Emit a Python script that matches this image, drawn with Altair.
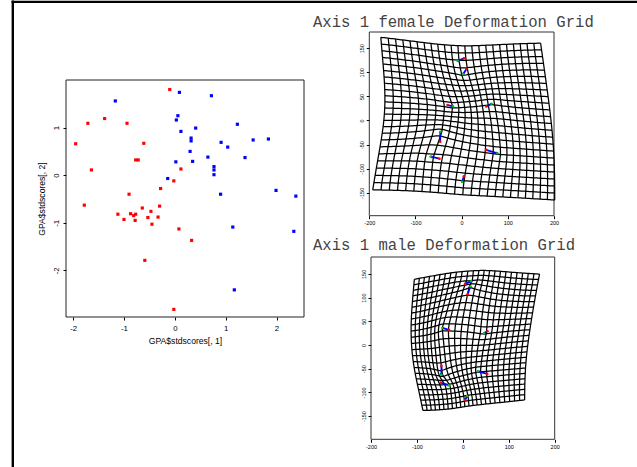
import numpy as np
import pandas as pd
import altair as alt

W, H = 637, 467

# ---------------- scatter data (GPA$stdscores) ----------------
red_x = [-0.10, -1.71, -1.38, -0.94, -1.95, -0.61, -1.64, -0.77, -0.72, -0.02, 0.12, -0.28, -0.90,
         -1.78, -0.30, -0.64, -1.12, -0.87, -0.81, -0.77, -1.00, -0.78, -0.53, -0.47, -0.33, -0.45,
         0.08, 0.33, -0.59, -0.02]
red_y = [1.80, 1.09, 1.19, 1.09, 0.66, 0.67, 0.11, 0.32, 0.32, -0.12, 0.13, -0.28, -0.40,
         -0.63, -0.65, -0.69, -0.82, -0.81, -0.85, -0.82, -0.93, -0.95, -0.89, -0.76, -0.88, -1.03,
         -1.13, -1.37, -1.79, -2.82]
blue_x = [-1.17, 0.09, 0.72, 0.06, 0.03, 0.12, 0.41, 0.32, 0.32, 1.23, 0.91, 1.04, 1.54, 1.84, 0.30,
          0.02, 0.35, 0.65, 1.38, 0.77, 0.77, 0.77, -0.14, 0.90, 1.99, 2.38, 1.14, 2.34, 1.17]
blue_y = [1.56, 1.74, 1.67, 1.25, 1.16, 0.92, 0.99, 0.78, 0.72, 1.07, 0.69, 0.59, 0.74, 0.76, 0.50,
          0.28, 0.29, 0.38, 0.37, 0.18, 0.11, 0.01, -0.07, -0.40, -0.32, -0.44, -1.09, -1.18, -2.41]

# ---------------- landmark data ----------------
ref_x = [5.0, 10.5, -30.5, 53.5, -46.5, -48.0, 53.0, 4.8]
ref_y = [129.0, 107.0, 32.0, 29.0, -44.0, -79.3, -61.0, -116.0]
fem_x = [-8.7, 3.0, -18.7, 64.6, -46.3, -67.2, 77.6, 0.9]
fem_y = [124.0, 95.8, 29.4, 34.9, -23.2, -75.0, -68.0, -127.0]
male_x = [18.1, 16.6, -44.5, 45.9, -46.8, -30.6, 32.8, 9.4]
male_y = [134.3, 123.8, 35.9, 24.6, -62.6, -85.1, -55.5, -107.6]

# warped grid corners (TL, TR, BR, BL)
fem_corner_x = [-175.0, 171.0, 201.5, -192.6]
fem_corner_y = [172.6, 160.5, -165.0, -144.0]
male_corner_x = [-105.6, 167.0, 134.5, -87.0]
male_corner_y = [138.6, 149.5, -116.0, -138.0]

titles = ["Axis 1 female Deformation Grid", "Axis 1 male Deformation Grid"]
x_label = "GPA$stdscores[, 1]"
y_label = "GPA$stdscores[, 2]"

# grid settings
N_GRID = 24
GRID_CENTER = (14.0, 8.0)
GRID_HALF = 148.0


def kern(d2):
    return -np.sqrt(d2)


def tps_fit(src, dst):
    n = len(src)
    d2 = ((src[:, None, :] - src[None, :, :]) ** 2).sum(-1)
    K = kern(d2)
    P = np.hstack([np.ones((n, 1)), src])
    L = np.zeros((n + 3, n + 3))
    L[:n, :n] = K
    L[:n, n:] = P
    L[n:, :n] = P.T
    rhs = np.zeros((n + 3, 2))
    rhs[:n] = dst
    return np.linalg.solve(L, rhs)


def tps_apply(src, coef, pts):
    n = len(src)
    d2 = ((pts[:, None, :] - src[None, :, :]) ** 2).sum(-1)
    P = np.hstack([np.ones((len(pts), 1)), pts])
    return kern(d2) @ coef[:n] + P @ coef[n:]


def grid_frame(tx, ty, kx, ky):
    cx, cy = GRID_CENTER
    h = GRID_HALF
    sq = np.array([[cx - h, cy + h], [cx + h, cy + h], [cx + h, cy - h], [cx - h, cy - h]])
    src = np.vstack([np.column_stack([ref_x, ref_y]), sq])
    dst = np.vstack([np.column_stack([tx, ty]), np.column_stack([kx, ky])])
    coef = tps_fit(src, dst)
    ticks = np.linspace(-h, h, N_GRID)
    fine = np.linspace(-h, h, 100)
    rows = []
    lid = 0
    for t in ticks:
        for pts in (np.column_stack([cx + fine, np.full_like(fine, cy + t)]),
                    np.column_stack([np.full_like(fine, cx + t), cy + fine])):
            w = tps_apply(src, coef, pts)
            for k, (a, b) in enumerate(w):
                rows.append({"gx": a, "gy": b, "lid": lid, "k": k})
            lid += 1
    return pd.DataFrame(rows)


FONT = "Liberation Sans"


def num_axis(orient, offset, values, size, tick, pad, title=None, tpad=0, tsize=8):
    kw = dict(orient=orient, offset=offset, values=values, domain=False, grid=False,
              tickSize=tick, tickColor="black", tickWidth=1,
              labelFont=FONT, labelFontSize=size, labelColor="black", labelPadding=pad,
              labelExpr="datum.value + ''", labelOverlap=False, labelFlush=False)
    if orient == "left":
        kw.update(labelAngle=-90, labelAlign="center", labelBaseline="bottom")
    if title:
        kw.update(title=title, titleFont=FONT, titleFontSize=tsize, titleFontWeight="normal",
                  titleColor="black", titlePadding=tpad)
    else:
        kw.update(title=None)
    return alt.Axis(**kw)


# ---------------- scatter panel ----------------
SX = alt.Scale(domain=[-2.14, 2.54], range=[66, 304], nice=False, zero=False)
SY = alt.Scale(domain=[-2.98, 2.0], range=[317, 80], nice=False, zero=False)
ax_sx = num_axis("bottom", 317 - H, [-2, -1, 0, 1, 2], 7.8, 3, 4, x_label, 5, 8.6)
ax_sy = num_axis("left", -66, [-2, -1, 0, 1], 7.8, 3, 3, y_label, 6, 8.6)

sc_df = pd.DataFrame({
    "x": red_x + blue_x,
    "y": red_y + blue_y,
    "grp": ["female"] * len(red_x) + ["male"] * len(blue_x),
})
box_sc = pd.DataFrame({"x1": [-2.14], "x2": [2.54], "y1": [-2.98], "y2": [2.0]})

sc_box = alt.Chart(box_sc).mark_rect(fillOpacity=0, stroke="#222222", strokeWidth=1).encode(
    x=alt.X("x1:Q", scale=SX, axis=ax_sx), x2="x2:Q",
    y=alt.Y("y1:Q", scale=SY, axis=ax_sy), y2="y2:Q")
sc_pts = alt.Chart(sc_df).mark_square(size=10, opacity=1).encode(
    x=alt.X("x:Q", scale=SX, axis=ax_sx),
    y=alt.Y("y:Q", scale=SY, axis=ax_sy),
    color=alt.Color("grp:N", scale=alt.Scale(domain=["female", "male"], range=["#ff0000", "#0000ff"]),
                    legend=None))
scatter = alt.layer(sc_box, sc_pts)


def grid_panel(tx, ty, kx, ky, xr, yr, ydom, title_y, title_text):
    GX = alt.Scale(domain=[-200, 200], range=xr, nice=False, zero=False)
    GY = alt.Scale(domain=ydom, range=yr, nice=False, zero=False)
    ax_x = num_axis("bottom", yr[0] - H, [-200, -100, 0, 100, 200], 5.5, 3, 2)
    ax_y = num_axis("left", -xr[0], [-150, -100, -50, 0, 50, 100, 150], 5.5, 3, 2)
    gdf = grid_frame(tx, ty, kx, ky)
    box = pd.DataFrame({"x1": [-200], "x2": [200], "y1": [ydom[0]], "y2": [ydom[1]]})
    lm = pd.DataFrame({"rx": ref_x, "ry": ref_y, "tx": tx, "ty": ty})
    # arrow-head direction (clockwise degrees from "up", in screen space)
    sx = (xr[1] - xr[0]) / 400.0
    sy = (yr[0] - yr[1]) / (ydom[1] - ydom[0])
    dxp = (lm["tx"] - lm["rx"]) * sx
    dyp = (lm["ty"] - lm["ry"]) * sy
    lm["ang"] = np.degrees(np.arctan2(dxp, dyp)) % 360
    b = alt.Chart(box).mark_rect(fillOpacity=0, stroke="#333333", strokeWidth=1).encode(
        x=alt.X("x1:Q", scale=GX, axis=ax_x), x2="x2:Q",
        y=alt.Y("y1:Q", scale=GY, axis=ax_y), y2="y2:Q")
    g = alt.Chart(gdf).mark_line(color="black", strokeWidth=1.25).encode(
        x=alt.X("gx:Q", scale=GX, axis=ax_x),
        y=alt.Y("gy:Q", scale=GY, axis=ax_y),
        detail="lid:N", order="k:Q")
    seg = alt.Chart(lm).mark_rule(color="#0000ff", strokeWidth=1.8).encode(
        x=alt.X("rx:Q", scale=GX, axis=ax_x), x2="tx:Q",
        y=alt.Y("ry:Q", scale=GY, axis=ax_y), y2="ty:Q")
    head = alt.Chart(lm).mark_point(shape="triangle-up", filled=True, color="#0000ff",
                                    size=9, opacity=1).encode(
        x=alt.X("tx:Q", scale=GX, axis=ax_x), y=alt.Y("ty:Q", scale=GY, axis=ax_y),
        angle=alt.Angle("ang:Q", scale=None))
    rp = alt.Chart(lm).mark_circle(color="#ff0000", size=7, opacity=1).encode(
        x=alt.X("rx:Q", scale=GX, axis=ax_x), y=alt.Y("ry:Q", scale=GY, axis=ax_y))
    tp = alt.Chart(lm).mark_circle(color="#00cd00", size=6, opacity=1).encode(
        x=alt.X("tx:Q", scale=GX, axis=ax_x), y=alt.Y("ty:Q", scale=GY, axis=ax_y))
    ttl = alt.Chart(pd.DataFrame({"t": [title_text]})).mark_text(
        font="Liberation Mono", fontSize=15.6, align="left", baseline="middle", color="#444444").encode(
        text="t:N", x=alt.value(313), y=alt.value(title_y))
    return alt.layer(b, g, seg, head, rp, tp, ttl)


female = grid_panel(fem_x, fem_y, fem_corner_x, fem_corner_y,
                    [369.3, 554], [215.7, 32], [-197.5, 183.6], 21.7, titles[0])
male = grid_panel(male_x, male_y, male_corner_x, male_corner_y,
                  [371, 554.7], [439.3, 257], [-198.9, 185.6], 244.5, titles[1])

frame_df = pd.DataFrame({"a": [0]})
frame_v = alt.Chart(frame_df).mark_rule(color="black", strokeWidth=2.4).encode(
    x=alt.value(12.8), y=alt.value(0.5), y2=alt.value(H))
frame_h = alt.Chart(frame_df).mark_rule(color="black", strokeWidth=2.2).encode(
    x=alt.value(11.6), x2=alt.value(W), y=alt.value(1.8))

chart = alt.layer(scatter, female, male, frame_v, frame_h).resolve_scale(
    x="independent", y="independent", color="independent"
).properties(
    width=W, height=H, autosize=alt.AutoSizeParams(type="none"), padding=0,
    background="white"
).configure_view(stroke=None)

chart.save("out.html", embed_options={"renderer": "svg", "actions": False})
